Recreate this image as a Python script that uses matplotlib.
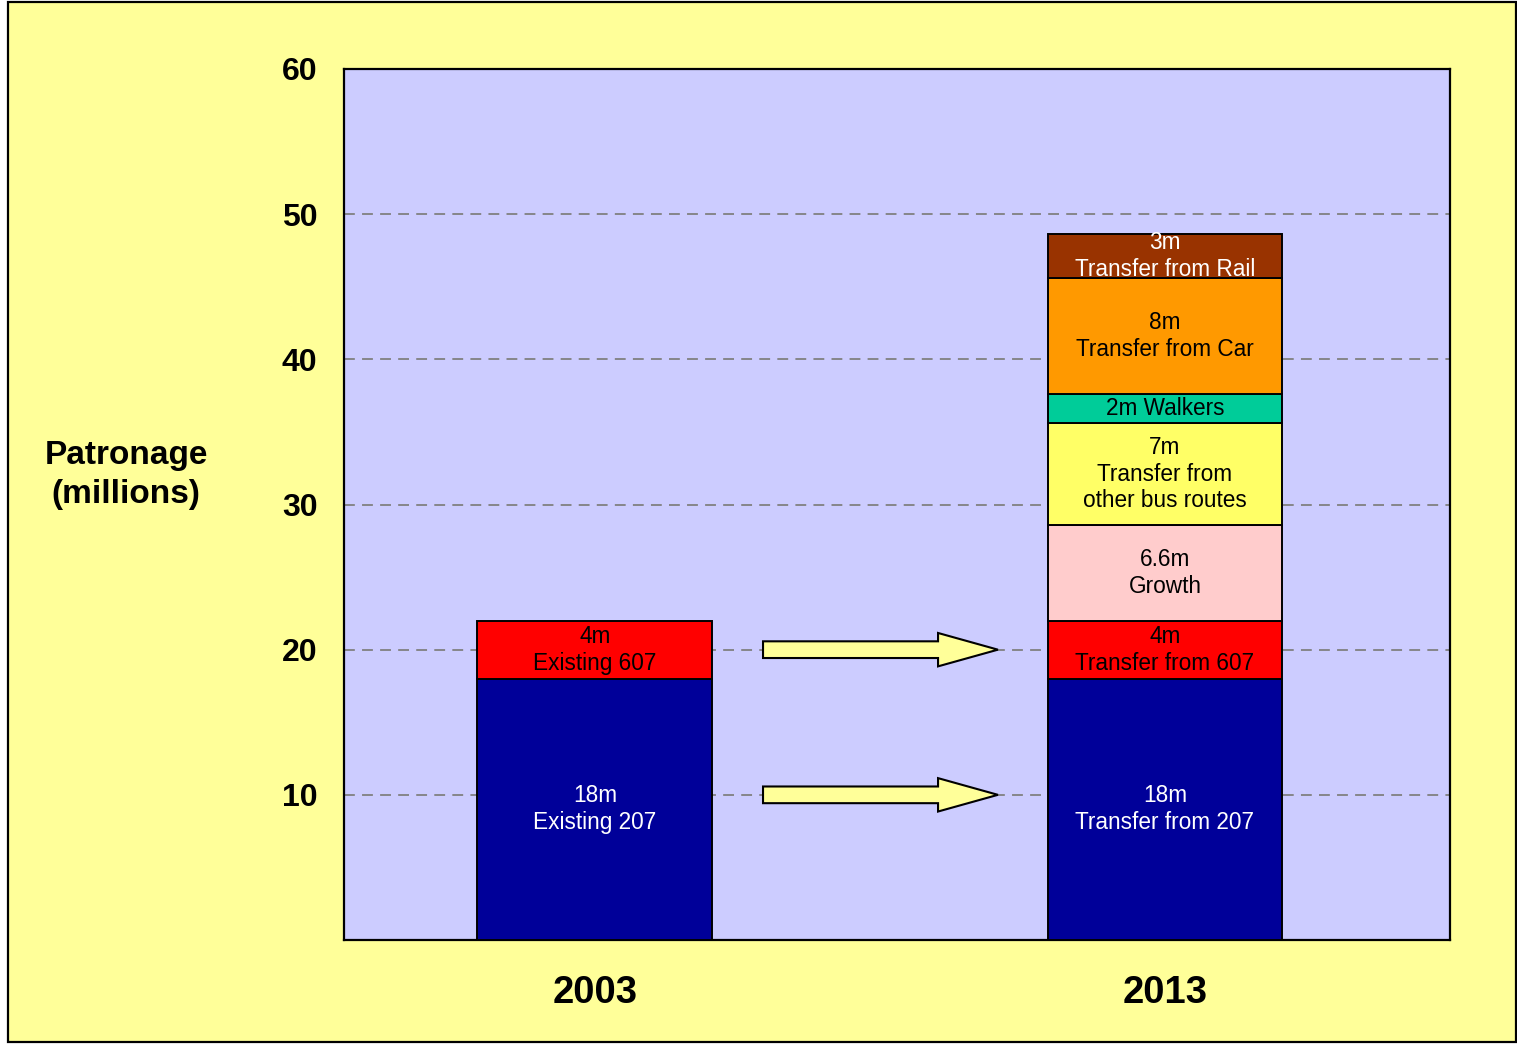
import matplotlib
matplotlib.use("Agg")
import matplotlib.pyplot as plt
from matplotlib.patches import Rectangle, FancyArrow
import matplotlib.transforms as mtransforms

plt.rcParams['font.family'] = ['Liberation Sans', 'DejaVu Sans']

# --- data -------------------------------------------------------------
years = ['2003', '2013']

values_2003 = [18, 4]
labels_2003 = ['18m\nExisting 207', '4m\nExisting 607']
colors_2003 = ['#000099', '#FF0000']
text_colors_2003 = ['white', 'black']

values_2013 = [18, 4, 6.6, 7, 2, 8, 3]
labels_2013 = ['18m\nTransfer from 207', '4m\nTransfer from 607', '6.6m\nGrowth',
               '7m\nTransfer from\nother bus routes', '2m Walkers',
               '8m\nTransfer from Car', '3m\nTransfer from Rail']
colors_2013 = ['#000099', '#FF0000', '#FFCCCC', '#FFFF66', '#00CC99',
               '#FF9900', '#993300']
text_colors_2013 = ['white', 'black', 'black', 'black', 'black', 'black', 'white']

y_ticks = [10, 20, 30, 40, 50, 60]
arrow_levels = [20, 10]

# --- figure -----------------------------------------------------------
W, H = 1517, 1044
fig = plt.figure(figsize=(W / 100, H / 100), dpi=100, facecolor='white')

# yellow panel with black frame
fig.patches.append(Rectangle((8 / W, 2 / H), (1516 - 8) / W, (1042 - 2) / H,
                             transform=fig.transFigure, facecolor='#FFFF99',
                             edgecolor='black', linewidth=1.6, zorder=-10))

ax = fig.add_axes([344 / W, 1 - 940 / H, (1450 - 344) / W, (940 - 69) / H])
ax.set_facecolor('#CCCCFF')
for s in ax.spines.values():
    s.set_linewidth(1.6)
    s.set_color('black')

ax.set_xlim(-0.44, 1.5)
ax.set_ylim(0, 60)
ax.set_yticks(y_ticks)
ax.set_yticklabels([str(t) for t in y_ticks], fontsize=23, fontweight='bold')
ax.tick_params(axis='y', length=0, pad=19)
ax.set_xticks([])
ax.yaxis.grid(True, color='#808080', linestyle=(0, (6, 4)), linewidth=1.3)
ax.set_axisbelow(True)

bar_width = 0.412


def draw_stack(x, vals, labels, cols, tcols):
    bottom = 0
    for v, lab, c, tc in zip(vals, labels, cols, tcols):
        ax.bar(x, v, bottom=bottom, width=bar_width, color=c,
               edgecolor='black', linewidth=1.4, zorder=3)
        ax.text(x, bottom + v / 2, lab, ha='center', va='center',
                color=tc, fontsize=16.3, linespacing=1.22, zorder=4)
        bottom += v


draw_stack(0, values_2003, labels_2003, colors_2003, text_colors_2003)
draw_stack(1, values_2013, labels_2013, colors_2013, text_colors_2013)

# transfer arrows between the two years
for lvl in arrow_levels:
    ax.add_patch(FancyArrow(0.295, lvl, 0.412, 0, width=1.15, head_width=2.3,
                            head_length=0.105, length_includes_head=True,
                            facecolor='#FFFF99', edgecolor='black',
                            linewidth=1.5, zorder=5))

# year labels under the bars
trans = mtransforms.blended_transform_factory(ax.transData, fig.transFigure)
for i, yr in enumerate(years):
    fig.text(i, 1 - 993 / H, yr, transform=trans, ha='center', va='center',
             fontsize=27.5, fontweight='bold')

fig.text(126 / W, 1 - 475 / H, 'Patronage\n(millions)', ha='center',
         va='center', fontsize=24, fontweight='bold', linespacing=1.35)

fig.savefig('out.png', dpi=100, facecolor=fig.get_facecolor())
